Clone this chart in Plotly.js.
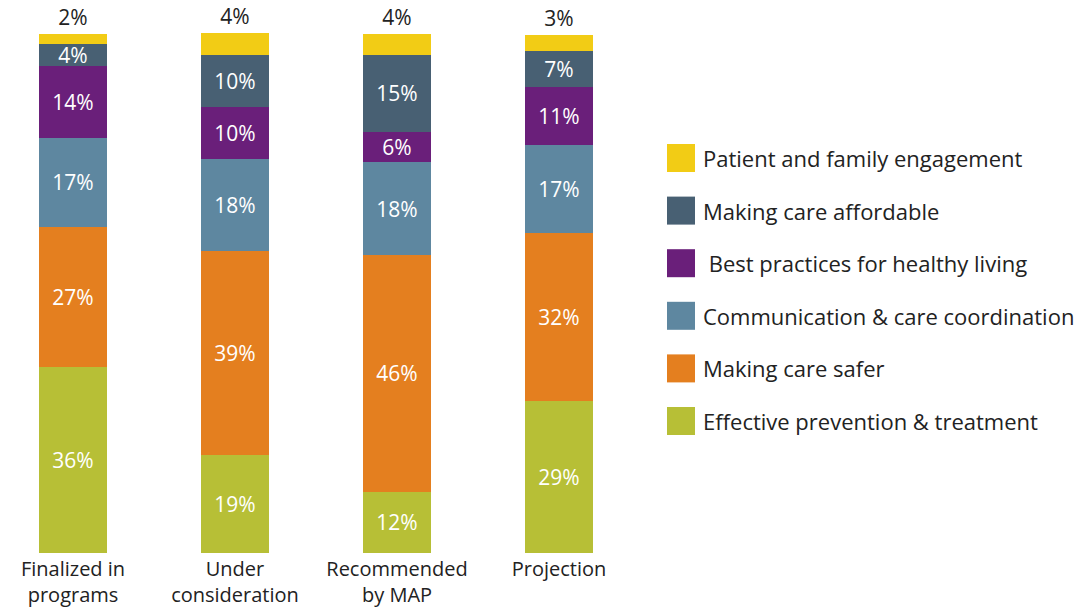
<!DOCTYPE html>
<html>
<head>
<meta charset="utf-8">
<script src="https://cdn.plot.ly/plotly-3.0.1.min.js"></script>
<style>
html,body{margin:0;padding:0;background:#fff;}
#chart{width:1079px;height:612px;}
</style>
</head>
<body>
<div id="chart"></div>
<script>
// Categories (x-axis)
var categories = ["Finalized in<br>programs", "Under<br>consideration", "Recommended<br>by MAP", "Projection"];

// Series values (percent), bottom to top of the stack
var effectivePrevention = [36, 18.9, 11.8, 29.3];
var makingCareSafer     = [27, 39.4, 45.8, 32.4];
var communication       = [17.2, 17.8, 17.8, 17.0];
var bestPractices       = [13.9, 10.0, 5.9, 11.2];
var careAffordable      = [4.2, 10.0, 14.9, 7.0];
var patientEngagement   = [1.8, 4.2, 4.0, 3.1];

// Series names (legend order, top to bottom)
var seriesNames = [
  "Patient and family engagement",
  "Making care affordable",
  "\u00a0Best practices for healthy living",
  "Communication & care coordination",
  "Making care safer",
  "Effective prevention & treatment"
];
var seriesColors = ["#F2CC15", "#486073", "#6A1F7A", "#5E87A0", "#E47F1F", "#B7BF36"];
var seriesValues = [patientEngagement, careAffordable, bestPractices, communication, makingCareSafer, effectivePrevention];

(function () {
  var FONT = "'Open Sans', sans-serif";
  var W = 1079, H = 612, mT = 20, mB = 59;
  var plotH = H - mT - mB;
  var plotRightPx = 620;

  var traces = [];
  for (var i = seriesNames.length - 1; i >= 0; i--) {
    var isTop = (i === 0);
    traces.push({
      type: "bar",
      name: seriesNames[i],
      x: categories,
      y: seriesValues[i],
      width: 68 / 162,
      marker: {color: seriesColors[i], line: {width: 0}},
      texttemplate: "%{y:.0f}%",
      textposition: isTop ? "outside" : "inside",
      insidetextanchor: "middle",
      constraintext: "none",
      textangle: 0,
      textfont: {family: FONT, size: 21, color: isTop ? "#222222" : "#ffffff"},
      insidetextfont: {family: FONT, size: 21, color: "#ffffff"},
      outsidetextfont: {family: FONT, size: 21, color: "#222222"},
      cliponaxis: false,
      hoverinfo: "skip",
      showlegend: false
    });
  }

  // custom legend with large square swatches
  var shapes = [], annotations = [];
  function px2x(p) { return p / W; }
  function py2y(p) { return (H - mB - p) / plotH; }
  for (var k = 0; k < seriesNames.length; k++) {
    var cy = 158 + 52.6 * k;
    shapes.push({
      type: "rect", xref: "paper", yref: "paper",
      x0: px2x(667), x1: px2x(695), y0: py2y(cy + 14), y1: py2y(cy - 14),
      fillcolor: seriesColors[k], line: {width: 0}
    });
    annotations.push({
      xref: "paper", yref: "paper", x: px2x(701), y: py2y(cy),
      xanchor: "left", yanchor: "middle", showarrow: false,
      text: seriesNames[k],
      font: {family: FONT, size: 22, color: "#222222"}
    });
  }

  var layout = {
    width: W, height: H,
    margin: {l: 0, r: 0, t: mT, b: mB, pad: 0},
    paper_bgcolor: "#ffffff", plot_bgcolor: "#ffffff",
    barmode: "stack",
    showlegend: false,
    font: {family: FONT, color: "#222222"},
    xaxis: {
      domain: [0, plotRightPx / W],
      range: [-73 / 162, -73 / 162 + plotRightPx / 162],
      showgrid: false, zeroline: false, showline: false, ticks: "",
      tickfont: {family: FONT, size: 20, color: "#222222"},
      ticklabelstandoff: 2,
      fixedrange: true
    },
    yaxis: {
      range: [0, plotH / 5.18],
      visible: false, showgrid: false, zeroline: false, fixedrange: true
    },
    shapes: shapes,
    annotations: annotations
  };

  Plotly.newPlot("chart", traces, layout, {displayModeBar: false, staticPlot: true});
})();
</script>
</body>
</html>
